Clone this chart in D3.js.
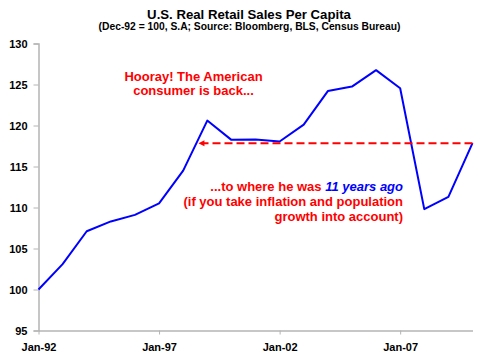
<!DOCTYPE html>
<html><head><meta charset="utf-8">
<script src="https://cdn.jsdelivr.net/npm/d3@7"></script>
<style>body{margin:0;background:#fff}svg{display:block}text{font-family:Arial,"Liberation Sans",sans-serif;font-weight:bold}</style>
</head><body><svg id="c" width="500" height="355"></svg>
<script>
const years = [1992,1993,1994,1995,1996,1997,1998,1999,2000,2001,2002,2003,2004,2005,2006,2007,2008,2009,2010];
const values = [100,103.1,107.1,108.3,109.1,110.5,114.5,120.6,118.25,118.3,118.05,120.1,124.2,124.75,126.75,124.55,109.8,111.3,117.85];
const yTicks = [95,100,105,110,115,120,125,130];
const xTickYears = [1992,1997,2002,2007];
const xTickLabels = ["Jan-92","Jan-97","Jan-02","Jan-07"];
const title = "U.S. Real Retail Sales Per Capita";
const subtitle = "(Dec-92 = 100, S.A; Source: Bloomberg, BLS, Census Bureau)";

const svg = d3.select("#c");
const x = d3.scaleLinear().domain([1992,2010]).range([38.5,472.5]);
const y = d3.scaleLinear().domain([95,130]).range([330.5,43.5]);

svg.append("text").attr("x",249).attr("y",18.5).attr("text-anchor","middle").attr("font-size",13.2).text(title);
svg.append("text").attr("x",249.5).attr("y",29.5).attr("text-anchor","middle").attr("font-size",10.3).text(subtitle);

const axisColor = "#b4b4b4";
// y axis
const ya = svg.append("g").attr("transform","translate(38.5,0)")
  .call(d3.axisLeft(y).tickValues(yTicks).tickSize(5).tickPadding(6));
ya.select(".domain").attr("stroke",axisColor).attr("stroke-width",1.5);
ya.selectAll(".tick line").attr("stroke",axisColor);
ya.selectAll(".tick text").attr("font-size",11).attr("fill","#000").attr("font-family","Arial").attr("font-weight","bold");
// x axis
const xa = svg.append("g").attr("transform","translate(0,330.5)")
  .call(d3.axisBottom(x).tickValues(xTickYears).tickFormat((d,i)=>xTickLabels[i]).tickSize(4).tickPadding(9).tickSizeOuter(0));
xa.select(".domain").attr("stroke",axisColor).attr("stroke-width",1.5);
xa.selectAll(".tick line").attr("stroke",axisColor);
xa.selectAll(".tick text").attr("font-size",11).attr("fill","#000").attr("font-family","Arial").attr("font-weight","bold");

// line
const pts = years.map((yr,i)=>[yr,values[i]]);
svg.append("path").datum(pts).attr("fill","none").attr("stroke","#0000ff").attr("stroke-width",2)
  .attr("stroke-linejoin","round")
  .attr("d",d3.line().x(d=>x(d[0])).y(d=>y(d[1])));

// dashed reference line from last value back to where the series crossed that level
const last = values[values.length-1];
let crossYr = years[0];
for (let i=0;i<values.length-1;i++){
  if (values[i] < last && values[i+1] >= last){
    crossYr = years[i] + (last-values[i])/(values[i+1]-values[i]); break;
  }
}
const tipX = x(crossYr)+2, yy = y(last);
svg.append("line").attr("x1",x(years[years.length-1])).attr("x2",tipX+5).attr("y1",yy).attr("y2",yy)
  .attr("stroke","#ff0000").attr("stroke-width",2).attr("stroke-dasharray","8,4");
svg.append("path").attr("d",`M${tipX},${yy}L${tipX+6},${yy-3}L${tipX+6},${yy+3}Z`).attr("fill","#ff0000");

// annotations
const a1 = svg.append("text").attr("text-anchor","middle").attr("font-size",13).attr("fill","#ff0000");
a1.append("tspan").attr("x",193.5).attr("y",81).text("Hooray! The American");
a1.append("tspan").attr("x",193.5).attr("y",94.5).text("consumer is back...");

const a2 = svg.append("text").attr("text-anchor","end").attr("font-size",13).attr("fill","#ff0000");
const l1 = a2.append("tspan").attr("x",403).attr("y",190.5);
l1.append("tspan").text("...to where he was ");
l1.append("tspan").attr("fill","#0000ff").attr("font-style","italic").text("11 years ago");
a2.append("tspan").attr("x",403).attr("y",205.5).text("(if you take inflation and population");
a2.append("tspan").attr("x",403).attr("y",220.5).text("growth into account)");
</script></body></html>
